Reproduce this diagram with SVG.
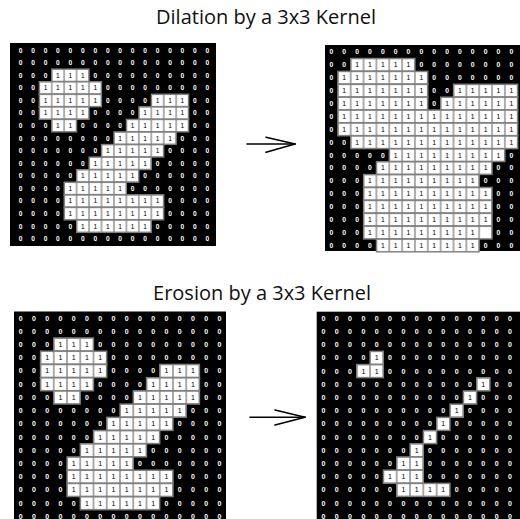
<svg xmlns="http://www.w3.org/2000/svg" width="520" height="519" viewBox="0 0 520 519">
<style>
.title{font-family:"Open Sans","Liberation Sans",sans-serif;font-size:20px;fill:#111;text-anchor:middle}
.bg{fill:#000}
.run{fill:url(#cell);stroke:#808080;stroke-width:1}
.row{font-family:"Liberation Sans",Arial,sans-serif;font-size:5.3px;font-weight:bold;fill:#fff;text-anchor:middle}
.one{fill:#000;font-weight:normal}
.arrow line{stroke:#000;stroke-width:1.6;stroke-linecap:round}
</style>
<defs>
<pattern id="cell" patternUnits="userSpaceOnUse" width="10" height="10"><rect width="10" height="10" fill="#fff" stroke="#808080" stroke-width="1"/></pattern>
</defs>
<rect width="520" height="519" fill="#fff"/>
<text class="title" x="266" y="24">Dilation by a 3x3 Kernel</text>
<text class="title" x="262" y="300">Erosion by a 3x3 Kernel</text>

<g id="input-dilation">
<rect class="bg" x="10" y="43" width="206" height="203"/>
<g transform="translate(14.35 43.9) scale(1.245 1.257)">
<rect class="run" x="30" y="20" width="30" height="10"/>
<rect class="run" x="20" y="30" width="50" height="10"/>
<rect class="run" x="20" y="40" width="50" height="10"/><rect class="run" x="110" y="40" width="30" height="10"/>
<rect class="run" x="20" y="50" width="40" height="10"/><rect class="run" x="100" y="50" width="40" height="10"/>
<rect class="run" x="30" y="60" width="20" height="10"/><rect class="run" x="90" y="60" width="50" height="10"/>
<rect class="run" x="80" y="70" width="50" height="10"/>
<rect class="run" x="70" y="80" width="50" height="10"/>
<rect class="run" x="60" y="90" width="50" height="10"/>
<rect class="run" x="50" y="100" width="50" height="10"/>
<rect class="run" x="40" y="110" width="50" height="10"/>
<rect class="run" x="40" y="120" width="80" height="10"/>
<rect class="run" x="40" y="130" width="80" height="10"/>
<rect class="run" x="50" y="140" width="60" height="10"/>
<text class="row" y="6.9" x="5 15 25 35 45 55 65 75 85 95 105 115 125 135 145 155">0000000000000000</text>
<text class="row" y="16.9" x="5 15 25 35 45 55 65 75 85 95 105 115 125 135 145 155">0000000000000000</text>
<text class="row" y="26.9" x="5 15 25 35 45 55 65 75 85 95 105 115 125 135 145 155">000<tspan class="one">111</tspan>0000000000</text>
<text class="row" y="36.9" x="5 15 25 35 45 55 65 75 85 95 105 115 125 135 145 155">00<tspan class="one">11111</tspan>000000000</text>
<text class="row" y="46.9" x="5 15 25 35 45 55 65 75 85 95 105 115 125 135 145 155">00<tspan class="one">11111</tspan>0000<tspan class="one">111</tspan>00</text>
<text class="row" y="56.9" x="5 15 25 35 45 55 65 75 85 95 105 115 125 135 145 155">00<tspan class="one">1111</tspan>0000<tspan class="one">1111</tspan>00</text>
<text class="row" y="66.9" x="5 15 25 35 45 55 65 75 85 95 105 115 125 135 145 155">000<tspan class="one">11</tspan>0000<tspan class="one">11111</tspan>00</text>
<text class="row" y="76.9" x="5 15 25 35 45 55 65 75 85 95 105 115 125 135 145 155">00000000<tspan class="one">11111</tspan>000</text>
<text class="row" y="86.9" x="5 15 25 35 45 55 65 75 85 95 105 115 125 135 145 155">0000000<tspan class="one">11111</tspan>0000</text>
<text class="row" y="96.9" x="5 15 25 35 45 55 65 75 85 95 105 115 125 135 145 155">000000<tspan class="one">11111</tspan>00000</text>
<text class="row" y="106.9" x="5 15 25 35 45 55 65 75 85 95 105 115 125 135 145 155">00000<tspan class="one">11111</tspan>000000</text>
<text class="row" y="116.9" x="5 15 25 35 45 55 65 75 85 95 105 115 125 135 145 155">0000<tspan class="one">11111</tspan>0000000</text>
<text class="row" y="126.9" x="5 15 25 35 45 55 65 75 85 95 105 115 125 135 145 155">0000<tspan class="one">11111111</tspan>0000</text>
<text class="row" y="136.9" x="5 15 25 35 45 55 65 75 85 95 105 115 125 135 145 155">0000<tspan class="one">11111111</tspan>0000</text>
<text class="row" y="146.9" x="5 15 25 35 45 55 65 75 85 95 105 115 125 135 145 155">00000<tspan class="one">111111</tspan>00000</text>
<text class="row" y="156.9" x="5 15 25 35 45 55 65 75 85 95 105 115 125 135 145 155">0000000000000000</text>
</g>
</g>

<g id="dilation-result">
<rect class="bg" x="325" y="45" width="195" height="206"/>
<g transform="translate(325 45.5) scale(1.285 1.29)">
<rect class="run" x="20" y="10" width="50" height="10"/>
<rect class="run" x="10" y="20" width="70" height="10"/>
<rect class="run" x="10" y="30" width="70" height="10"/><rect class="run" x="100" y="30" width="50" height="10"/>
<rect class="run" x="10" y="40" width="70" height="10"/><rect class="run" x="90" y="40" width="60" height="10"/>
<rect class="run" x="10" y="50" width="140" height="10"/>
<rect class="run" x="10" y="60" width="140" height="10"/>
<rect class="run" x="20" y="70" width="130" height="10"/>
<rect class="run" x="50" y="80" width="90" height="10"/>
<rect class="run" x="40" y="90" width="90" height="10"/>
<rect class="run" x="30" y="100" width="90" height="10"/>
<rect class="run" x="30" y="110" width="100" height="10"/>
<rect class="run" x="30" y="120" width="100" height="10"/>
<rect class="run" x="30" y="130" width="100" height="10"/>
<rect class="run" x="30" y="140" width="100" height="10"/>
<rect class="run" x="40" y="150" width="80" height="10"/>
<text class="row" y="6.9" x="5 15 25 35 45 55 65 75 85 95 105 115 125 135 145">000000000000000</text>
<text class="row" y="16.9" x="5 15 25 35 45 55 65 75 85 95 105 115 125 135 145">00<tspan class="one">11111</tspan>00000000</text>
<text class="row" y="26.9" x="5 15 25 35 45 55 65 75 85 95 105 115 125 135 145">0<tspan class="one">1111111</tspan>0000000</text>
<text class="row" y="36.9" x="5 15 25 35 45 55 65 75 85 95 105 115 125 135 145">0<tspan class="one">1111111</tspan>00<tspan class="one">11111</tspan></text>
<text class="row" y="46.9" x="5 15 25 35 45 55 65 75 85 95 105 115 125 135 145">0<tspan class="one">1111111</tspan>0<tspan class="one">111111</tspan></text>
<text class="row" y="56.9" x="5 15 25 35 45 55 65 75 85 95 105 115 125 135 145">0<tspan class="one">11111111111111</tspan></text>
<text class="row" y="66.9" x="5 15 25 35 45 55 65 75 85 95 105 115 125 135 145">0<tspan class="one">11111111111111</tspan></text>
<text class="row" y="76.9" x="5 15 25 35 45 55 65 75 85 95 105 115 125 135 145">00<tspan class="one">1111111111111</tspan></text>
<text class="row" y="86.9" x="5 15 25 35 45 55 65 75 85 95 105 115 125 135 145">00000<tspan class="one">111111111</tspan>0</text>
<text class="row" y="96.9" x="5 15 25 35 45 55 65 75 85 95 105 115 125 135 145">0000<tspan class="one">111111111</tspan>00</text>
<text class="row" y="106.9" x="5 15 25 35 45 55 65 75 85 95 105 115 125 135 145">000<tspan class="one">111111111</tspan>000</text>
<text class="row" y="116.9" x="5 15 25 35 45 55 65 75 85 95 105 115 125 135 145">000<tspan class="one">1111111111</tspan>00</text>
<text class="row" y="126.9" x="5 15 25 35 45 55 65 75 85 95 105 115 125 135 145">000<tspan class="one">1111111111</tspan>00</text>
<text class="row" y="136.9" x="5 15 25 35 45 55 65 75 85 95 105 115 125 135 145">000<tspan class="one">1111111111</tspan>00</text>
<text class="row" y="146.9" x="5 15 25 35 45 55 65 75 85 95 105 115 135 145">000<tspan class="one">111111111</tspan>00</text>
<text class="row" y="156.9" x="5 15 25 35 45 55 65 75 85 95 105 115 125 135 145">0000<tspan class="one">11111111</tspan>000</text>
</g>
</g>

<g id="input-erosion">
<rect class="bg" x="14" y="311.5" width="212" height="208"/>
<g transform="translate(14 311.5) scale(1.325 1.322)">
<rect class="run" x="30" y="20" width="30" height="10"/>
<rect class="run" x="20" y="30" width="50" height="10"/>
<rect class="run" x="20" y="40" width="50" height="10"/><rect class="run" x="110" y="40" width="30" height="10"/>
<rect class="run" x="20" y="50" width="40" height="10"/><rect class="run" x="100" y="50" width="40" height="10"/>
<rect class="run" x="30" y="60" width="20" height="10"/><rect class="run" x="90" y="60" width="50" height="10"/>
<rect class="run" x="80" y="70" width="50" height="10"/>
<rect class="run" x="70" y="80" width="50" height="10"/>
<rect class="run" x="60" y="90" width="50" height="10"/>
<rect class="run" x="50" y="100" width="50" height="10"/>
<rect class="run" x="40" y="110" width="50" height="10"/>
<rect class="run" x="40" y="120" width="80" height="10"/>
<rect class="run" x="40" y="130" width="80" height="10"/>
<rect class="run" x="50" y="140" width="60" height="10"/>
<text class="row" y="6.9" x="5 15 25 35 45 55 65 75 85 95 105 115 125 135 145 155">0000000000000000</text>
<text class="row" y="16.9" x="5 15 25 35 45 55 65 75 85 95 105 115 125 135 145 155">0000000000000000</text>
<text class="row" y="26.9" x="5 15 25 35 45 55 65 75 85 95 105 115 125 135 145 155">000<tspan class="one">111</tspan>0000000000</text>
<text class="row" y="36.9" x="5 15 25 35 45 55 65 75 85 95 105 115 125 135 145 155">00<tspan class="one">11111</tspan>000000000</text>
<text class="row" y="46.9" x="5 15 25 35 45 55 65 75 85 95 105 115 125 135 145 155">00<tspan class="one">11111</tspan>0000<tspan class="one">111</tspan>00</text>
<text class="row" y="56.9" x="5 15 25 35 45 55 65 75 85 95 105 115 125 135 145 155">00<tspan class="one">1111</tspan>0000<tspan class="one">1111</tspan>00</text>
<text class="row" y="66.9" x="5 15 25 35 45 55 65 75 85 95 105 115 125 135 145 155">000<tspan class="one">11</tspan>0000<tspan class="one">11111</tspan>00</text>
<text class="row" y="76.9" x="5 15 25 35 45 55 65 75 85 95 105 115 125 135 145 155">00000000<tspan class="one">11111</tspan>000</text>
<text class="row" y="86.9" x="5 15 25 35 45 55 65 75 85 95 105 115 125 135 145 155">0000000<tspan class="one">11111</tspan>0000</text>
<text class="row" y="96.9" x="5 15 25 35 45 55 65 75 85 95 105 115 125 135 145 155">000000<tspan class="one">11111</tspan>00000</text>
<text class="row" y="106.9" x="5 15 25 35 45 55 65 75 85 95 105 115 125 135 145 155">00000<tspan class="one">11111</tspan>000000</text>
<text class="row" y="116.9" x="5 15 25 35 45 55 65 75 85 95 105 115 125 135 145 155">0000<tspan class="one">11111</tspan>0000000</text>
<text class="row" y="126.9" x="5 15 25 35 45 55 65 75 85 95 105 115 125 135 145 155">0000<tspan class="one">11111111</tspan>0000</text>
<text class="row" y="136.9" x="5 15 25 35 45 55 65 75 85 95 105 115 125 135 145 155">0000<tspan class="one">11111111</tspan>0000</text>
<text class="row" y="146.9" x="5 15 25 35 45 55 65 75 85 95 105 115 125 135 145 155">00000<tspan class="one">111111</tspan>00000</text>
<text class="row" y="156.9" x="5 15 25 35 45 55 65 75 85 95 105 115 125 135 145 155">0000000000000000</text>
</g>
</g>

<g id="erosion-result">
<rect class="bg" x="316.7" y="311.7" width="203.3" height="208"/>
<g transform="translate(316.7 311.7) scale(1.333 1.32)">
<rect class="run" x="40" y="30" width="10" height="10"/>
<rect class="run" x="30" y="40" width="20" height="10"/>
<rect class="run" x="120" y="50" width="10" height="10"/>
<rect class="run" x="110" y="60" width="10" height="10"/>
<rect class="run" x="100" y="70" width="10" height="10"/>
<rect class="run" x="90" y="80" width="10" height="10"/>
<rect class="run" x="80" y="90" width="10" height="10"/>
<rect class="run" x="70" y="100" width="10" height="10"/>
<rect class="run" x="60" y="110" width="20" height="10"/>
<rect class="run" x="50" y="120" width="30" height="10"/>
<rect class="run" x="60" y="130" width="40" height="10"/>
<text class="row" y="6.9" x="5 15 25 35 45 55 65 75 85 95 105 115 125 135 145">000000000000000</text>
<text class="row" y="16.9" x="5 15 25 35 45 55 65 75 85 95 105 115 125 135 145">000000000000000</text>
<text class="row" y="26.9" x="5 15 25 35 45 55 65 75 85 95 105 115 125 135 145">000000000000000</text>
<text class="row" y="36.9" x="5 15 25 35 45 55 65 75 85 95 105 115 125 135 145">0000<tspan class="one">1</tspan>0000000000</text>
<text class="row" y="46.9" x="5 15 25 35 45 55 65 75 85 95 105 115 125 135 145">000<tspan class="one">11</tspan>0000000000</text>
<text class="row" y="56.9" x="5 15 25 35 45 55 65 75 85 95 105 115 125 135 145">000000000000<tspan class="one">1</tspan>00</text>
<text class="row" y="66.9" x="5 15 25 35 45 55 65 75 85 95 105 115 125 135 145">00000000000<tspan class="one">1</tspan>000</text>
<text class="row" y="76.9" x="5 15 25 35 45 55 65 75 85 95 105 115 125 135 145">0000000000<tspan class="one">1</tspan>0000</text>
<text class="row" y="86.9" x="5 15 25 35 45 55 65 75 85 95 105 115 125 135 145">000000000<tspan class="one">1</tspan>00000</text>
<text class="row" y="96.9" x="5 15 25 35 45 55 65 75 85 95 105 115 125 135 145">00000000<tspan class="one">1</tspan>000000</text>
<text class="row" y="106.9" x="5 15 25 35 45 55 65 75 85 95 105 115 125 135 145">0000000<tspan class="one">1</tspan>0000000</text>
<text class="row" y="116.9" x="5 15 25 35 45 55 65 75 85 95 105 115 125 135 145">000000<tspan class="one">11</tspan>0000000</text>
<text class="row" y="126.9" x="5 15 25 35 45 55 65 75 85 95 105 115 125 135 145">00000<tspan class="one">111</tspan>0000000</text>
<text class="row" y="136.9" x="5 15 25 35 45 55 65 75 85 95 105 115 125 135 145">000000<tspan class="one">1111</tspan>00000</text>
<text class="row" y="146.9" x="5 15 25 35 45 55 65 75 85 95 105 115 125 135 145">000000000000000</text>
<text class="row" y="156.9" x="5 15 25 35 45 55 65 75 85 95 105 115 125 135 145">000000000000000</text>
</g>
</g>

<g id="connectors" class="arrow">
<line x1="247" y1="144" x2="295" y2="144"/>
<line x1="266" y1="137.3" x2="295" y2="144"/>
<line x1="266" y1="152.3" x2="295" y2="144"/>
<line x1="250" y1="417.3" x2="305" y2="417.3"/>
<line x1="275" y1="410" x2="305" y2="417.3"/>
<line x1="275" y1="425" x2="305" y2="417.3"/>
</g>
</svg>
